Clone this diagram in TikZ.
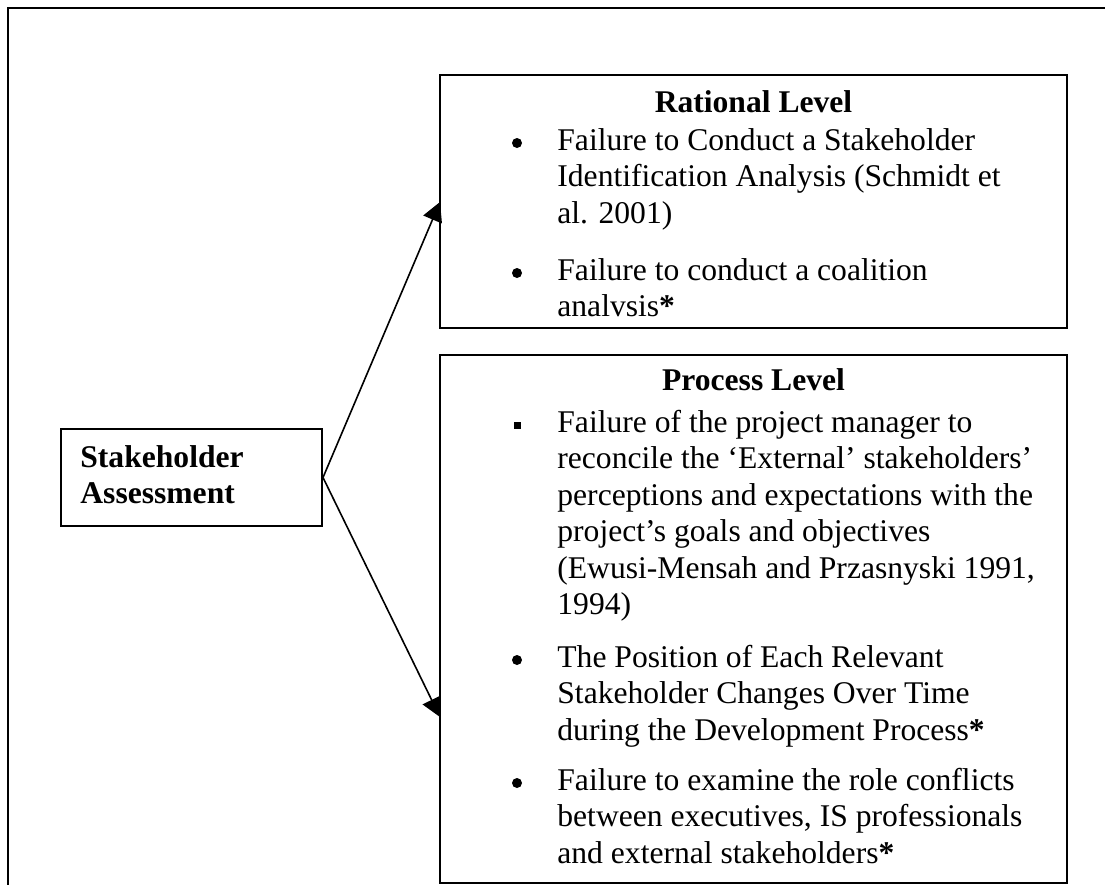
\documentclass[tikz,border=0pt]{standalone}
\usepackage{fontspec}
\setmainfont{Liberation Serif}
\usetikzlibrary{arrows.meta}
\newcommand{\bodysize}{\fontsize{15.8pt}{18.25pt}\selectfont}

\begin{document}
\begin{tikzpicture}[x=0.5pt,y=-0.5pt,
	box/.style={draw, line width=1pt, fill=white, inner sep=0pt},
	heading/.style={anchor=base, inner sep=0pt, font=\bodysize\bfseries},
	itemtext/.style={anchor=base west, inner sep=0pt, align=left, font=\bodysize},
	dot/.style={circle, fill=black, inner sep=0pt, minimum size=5pt},
	square/.style={fill=black, inner sep=0pt, minimum size=3.5pt},
	link/.style={line width=0.8pt, -{Triangle[length=9.5pt,width=10pt]}}]
\useasboundingbox (0,0) rectangle (1105,885);
% outer frame, cut off at the right and the bottom
\draw[line width=1.2pt] (8,885) -- (8,8) -- (1105,8);
\node[box, minimum width=130.5pt, minimum height=48.5pt] (stake) at (191.5,477.5) {};
\node[box, minimum width=313.5pt, minimum height=126.5pt] (rational) at (753.5,201.5) {};
\node[box, minimum width=313.5pt, minimum height=264pt] (process) at (753.5,619) {};
% multi-line texts sit on the baseline of their last line
\node[heading, anchor=base west, align=left] (stakelabel) at (80,503.5) {Stakeholder\\Assessment};
% rational level
\node[heading] (ratlabel) at (753.5,112) {Rational Level};
\node[dot] (rdot1) at (517,143) {};
\node[itemtext] (r1) at (557,223) {Failure to Conduct a Stakeholder\\Identification Analysis (Schmidt et\\al. 2001)};
\node[dot] (rdot2) at (517,273) {};
\node[itemtext] (r2) at (557,316.5) {Failure to conduct a coalition\\analvsis\textbf{*}};
% process level
\node[heading] (proclabel) at (753.5,390) {Process Level};
\node[square] (psq1) at (517,425) {};
\node[itemtext] (p1) at (557,614.5) {Failure of the project manager to\\reconcile the ‘External’ stakeholders’\\perceptions and expectations with the\\project’s goals and objectives\\(Ewusi-Mensah and Przasnyski 1991,\\1994)};
\node[dot] (pdot2) at (517,660) {};
\node[itemtext] (p2) at (557,740) {The Position of Each Relevant\\Stakeholder Changes Over Time\\during the Development Process\textbf{*}};
\node[dot] (pdot3) at (517,783) {};
\node[itemtext] (p3) at (557,863) {Failure to examine the role conflicts\\between executives, IS professionals\\and external stakeholders\textbf{*}};
% connectors
\coordinate (rtip) at (440,202);
\coordinate (ptip) at (440,717);
\draw[link] (stake.east) -- (rtip);
\draw[link] (stake.east) -- (ptip);
\end{tikzpicture}
\end{document}
